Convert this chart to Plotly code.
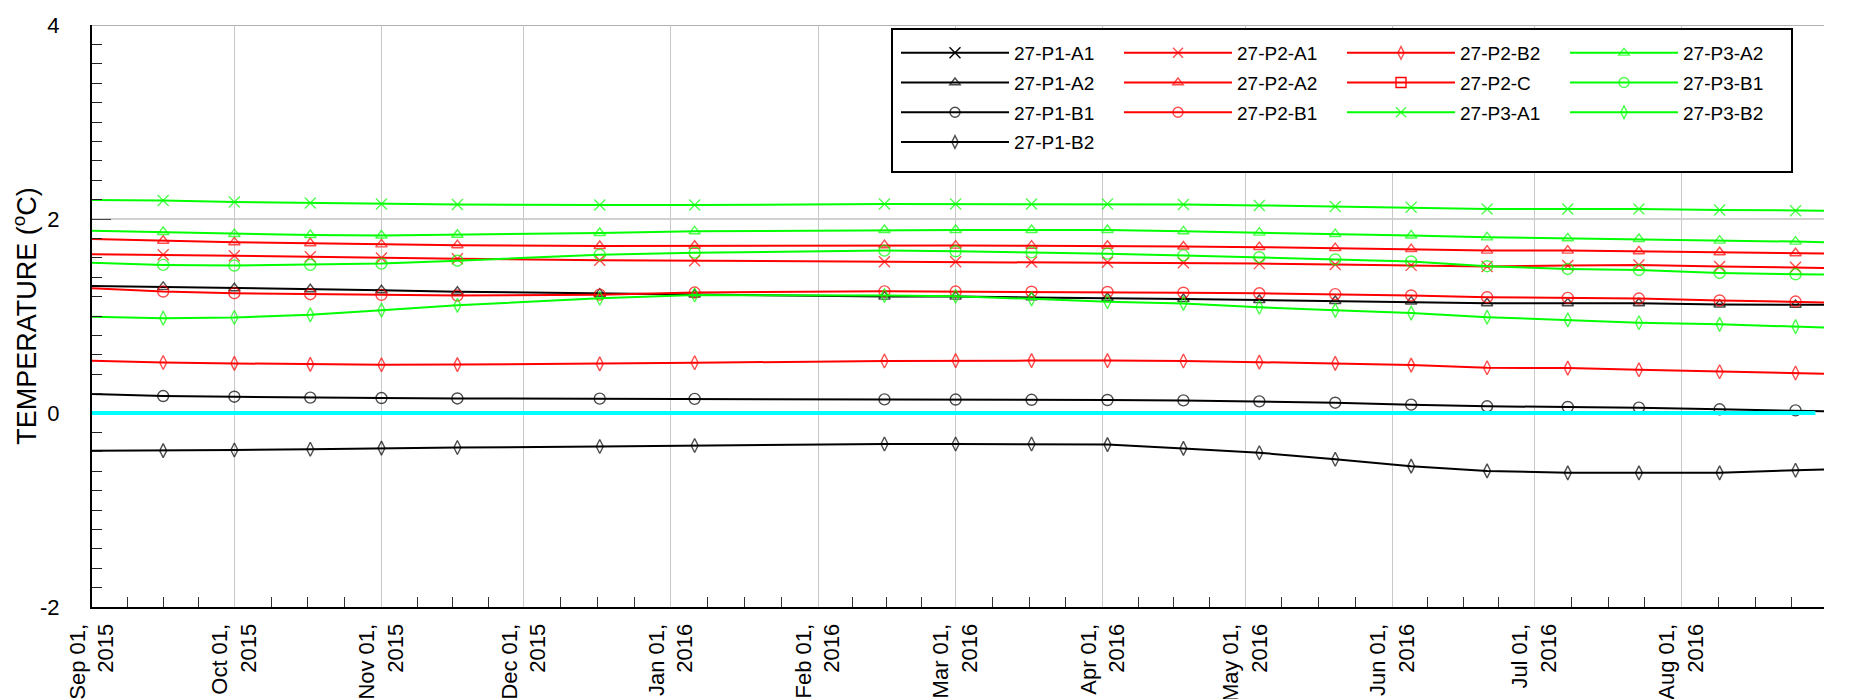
import datetime as dt
import plotly.graph_objects as go

# ---------------- data ----------------
dates = ["2015-09-01", "2015-09-16", "2015-10-01", "2015-10-17", "2015-11-01", "2015-11-17",
         "2015-12-17", "2016-01-06", "2016-02-15", "2016-03-01", "2016-03-17", "2016-04-02",
         "2016-04-18", "2016-05-04", "2016-05-20", "2016-06-05", "2016-06-21", "2016-07-08",
         "2016-07-23", "2016-08-09", "2016-08-25", "2016-08-31"]

p1_a1 = [None]   # no readings plotted for this sensor
p1_a2 = [1.310, 1.300, 1.286, 1.276, 1.266, 1.250, 1.230, 1.222, 1.200, 1.200, 1.192, 1.186,
         1.175, 1.165, 1.155, 1.149, 1.132, 1.132, 1.132, 1.118, 1.115, 1.115]
p1_b1 = [0.196, 0.175, 0.168, 0.158, 0.154, 0.150, 0.148, 0.146, 0.140, 0.139, 0.136, 0.134,
         0.130, 0.120, 0.106, 0.086, 0.069, 0.062, 0.055, 0.038, 0.027, 0.017]
p1_b2 = [-0.388, -0.388, -0.381, -0.374, -0.362, -0.356, -0.345, -0.335, -0.320, -0.320, -0.320, -0.326,
         -0.365, -0.410, -0.477, -0.548, -0.597, -0.617, -0.617, -0.617, -0.590, -0.583]
p2_a1 = [1.636, 1.632, 1.621, 1.612, 1.598, 1.590, 1.575, 1.570, 1.560, 1.560, 1.556, 1.553,
         1.548, 1.540, 1.530, 1.522, 1.510, 1.520, 1.525, 1.510, 1.503, 1.496]
p2_a2 = [1.795, 1.776, 1.760, 1.750, 1.738, 1.730, 1.722, 1.724, 1.730, 1.726, 1.725, 1.724,
         1.717, 1.710, 1.700, 1.690, 1.674, 1.674, 1.667, 1.657, 1.647, 1.645]
p2_b1 = [1.286, 1.252, 1.235, 1.225, 1.218, 1.211, 1.220, 1.242, 1.254, 1.252, 1.250, 1.248,
         1.240, 1.234, 1.226, 1.212, 1.194, 1.187, 1.180, 1.160, 1.149, 1.140]
p2_b2 = [0.539, 0.521, 0.511, 0.501, 0.497, 0.499, 0.506, 0.518, 0.536, 0.540, 0.540, 0.540,
         0.536, 0.524, 0.512, 0.494, 0.467, 0.463, 0.446, 0.425, 0.412, 0.405]
p2_c = [None]    # no readings plotted for this sensor
p3_a1 = [2.196, 2.190, 2.176, 2.165, 2.155, 2.150, 2.144, 2.144, 2.155, 2.155, 2.155, 2.155,
         2.150, 2.140, 2.130, 2.120, 2.103, 2.103, 2.103, 2.093, 2.086, 2.086]
p3_a2 = [1.880, 1.866, 1.845, 1.835, 1.830, 1.838, 1.856, 1.873, 1.887, 1.887, 1.887, 1.887,
         1.873, 1.860, 1.845, 1.830, 1.811, 1.801, 1.794, 1.777, 1.767, 1.760]
p3_b1 = [1.550, 1.527, 1.520, 1.527, 1.540, 1.570, 1.632, 1.653, 1.674, 1.667, 1.656, 1.643,
         1.625, 1.606, 1.583, 1.562, 1.513, 1.485, 1.475, 1.444, 1.430, 1.428]
p3_b2 = [0.991, 0.978, 0.985, 1.012, 1.060, 1.110, 1.183, 1.216, 1.212, 1.203, 1.177, 1.147,
         1.130, 1.090, 1.058, 1.030, 0.988, 0.960, 0.930, 0.914, 0.890, 0.882]

series_names = ["27-P1-A1", "27-P1-A2", "27-P1-B1", "27-P1-B2",
                "27-P2-A1", "27-P2-A2", "27-P2-B1",
                "27-P2-B2", "27-P2-C", "27-P3-A1",
                "27-P3-A2", "27-P3-B1", "27-P3-B2"]
series_values = [p1_a1, p1_a2, p1_b1, p1_b2,
                 p2_a1, p2_a2, p2_b1,
                 p2_b2, p2_c, p3_a1,
                 p3_a2, p3_b1, p3_b2]

tick_dates = ["2015-09-01", "2015-10-01", "2015-11-01", "2015-12-01", "2016-01-01", "2016-02-01",
              "2016-03-01", "2016-04-01", "2016-05-01", "2016-06-01", "2016-07-01", "2016-08-01"]
tick_labels = ["Sep 01,<br>2015", "Oct 01,<br>2015", "Nov 01,<br>2015", "Dec 01,<br>2015",
               "Jan 01,<br>2016", "Feb 01,<br>2016", "Mar 01,<br>2016", "Apr 01,<br>2016",
               "May 01,<br>2016", "Jun 01,<br>2016", "Jul 01,<br>2016", "Aug 01,<br>2016"]
x_range = ["2015-09-01", "2016-08-31"]
y_range = [-2, 4]
y_label_vals = [-2, 0, 2, 4]
y_label_text = ["-2", "0", "2", "4"]
y_unlabelled_vals = [-1, 1, 3]

# ---------------- styles ----------------
FONT = "Liberation Sans, Arial, sans-serif"
BLACK, RED, GREEN = "#000000", "#ff0000", "#00ff00"
colors = [BLACK] * 4 + [RED] * 5 + [GREEN] * 4
symbols = ["x-thin-open", "triangle-up-open", "circle-open", "diamond-tall-open",
           "x-thin-open", "triangle-up-open", "circle-open",
           "diamond-tall-open", "square-open", "x-thin-open",
           "triangle-up-open", "circle-open", "diamond-tall-open"]
msizes = {"x-thin-open": 11, "triangle-up-open": 10, "circle-open": 11,
          "diamond-tall-open": 10, "square-open": 10}
legend_ids = ["legend"] * 4 + ["legend2"] * 3 + ["legend3"] * 3 + ["legend4"] * 3

fig = go.Figure()
for name, vals, col, sym, lg in zip(series_names, series_values, colors, symbols, legend_ids):
    n = len(vals)
    xs = dates[:n]
    if n > 2:
        sizes = [0 if (i == 0 or i == n - 1) else msizes[sym] for i in range(n)]
    else:
        sizes = msizes[sym]
    fig.add_trace(go.Scatter(
        x=xs, y=vals, name=name, mode="lines+markers", legend=lg, legendgroup=name,
        line=dict(color=col, width=2),
        marker=dict(symbol=sym, size=sizes, color=col, line=dict(color=col, width=1.4)),
        xaxis="x", yaxis="y",
    ))

# minor x ticks at quarter months
month_starts = [dt.date(2015, 9, 1)]
for _ in range(12):
    d = month_starts[-1]
    month_starts.append(dt.date(d.year + (d.month // 12), d.month % 12 + 1, 1))
minor_x = []
for a, b in zip(month_starts[:-1], month_starts[1:]):
    span = (b - a).days
    for k in (1, 2, 3):
        minor_x.append((dt.datetime.combine(a, dt.time()) + dt.timedelta(days=span * k / 4)).isoformat())

W, H = 1875, 699
L, R, T, B = 84, 59, 17, 100
pw = W - L - R
ph = H - T - B


def px2x(p):
    return (p - L) / pw


def py2y(p):
    return (H - B - p) / ph


legend_common = dict(font=dict(family=FONT, size=19, color="black"),
                     bgcolor="rgba(0,0,0,0)", borderwidth=0, xanchor="left", yanchor="top",
                     traceorder="grouped", tracegroupgap=2, itemwidth=108, orientation="v")
leg_top = py2y(26)

minor_y = dict(dtick=0.2, ticks="inside", ticklen=10, tickcolor="#222222", showgrid=False)
tick_font = dict(family=FONT, size=22, color="black")

fig.update_layout(
    width=W, height=H,
    margin=dict(l=L, r=R, t=T, b=B, autoexpand=False),
    paper_bgcolor="white", plot_bgcolor="white",
    font=dict(family=FONT, size=20, color="black"),
    showlegend=True,
    legend=dict(legend_common, x=px2x(888), y=leg_top),
    legend2=dict(legend_common, x=px2x(1111), y=leg_top),
    legend3=dict(legend_common, x=px2x(1334), y=leg_top),
    legend4=dict(legend_common, x=px2x(1557), y=leg_top),
    xaxis=dict(
        type="date", range=x_range, tickmode="array", tickvals=tick_dates, ticktext=tick_labels,
        tickangle=-90, tickfont=tick_font,
        ticks="", showgrid=True, gridcolor="#c8c8c8", gridwidth=1,
        showline=True, linecolor="black", linewidth=2, zeroline=False,
        ticklabelstandoff=6,
        minor=dict(tickmode="array", tickvals=minor_x, ticks="inside", ticklen=10,
                   tickcolor="#333333", showgrid=False),
    ),
    yaxis=dict(
        range=y_range, tickmode="array", tickvals=y_label_vals, ticktext=y_label_text,
        ticks="inside", ticklen=19, tickcolor="#444444", tickwidth=1, tickfont=tick_font,
        showgrid=False, zeroline=False, showline=True, linecolor="black", linewidth=2,
        ticklabelstandoff=26, minor=minor_y,
        title=dict(text="TEMPERATURE (<sup>o</sup>C)", font=dict(family=FONT, size=27, color="black"),
                   standoff=8),
    ),
    yaxis2=dict(
        overlaying="y", side="right", range=y_range, tickmode="array", tickvals=y_label_vals,
        ticktext=y_label_text, ticks="inside", ticklen=19, tickcolor="#444444", tickfont=tick_font,
        showgrid=False, zeroline=False, showline=True, linecolor="#808080", linewidth=2,
        ticklabelstandoff=14, minor=minor_y,
    ),
    yaxis3=dict(
        overlaying="y", side="left", range=y_range, tickmode="array", tickvals=y_unlabelled_vals,
        ticks="inside", ticklen=19, tickcolor="#444444", showticklabels=False,
        showgrid=False, zeroline=False, showline=False,
    ),
    yaxis4=dict(
        overlaying="y", side="right", range=y_range, tickmode="array", tickvals=y_unlabelled_vals,
        ticks="inside", ticklen=19, tickcolor="#444444", showticklabels=False,
        showgrid=False, zeroline=False, showline=False,
    ),
    shapes=[
        dict(type="line", xref="paper", yref="y", x0=0, x1=1, y0=2, y1=2,
             line=dict(color="#c0c0c0", width=1.5), layer="below"),
        dict(type="line", xref="paper", yref="y", x0=0, x1=1, y0=4, y1=4,
             line=dict(color="#b0b0b0", width=2), layer="below"),
        dict(type="line", xref="paper", yref="y", x0=0, x1=0.995, y0=0, y1=0,
             line=dict(color="#00ffff", width=4), layer="above"),
        dict(type="rect", xref="paper", yref="paper", x0=px2x(884), x1=px2x(1784),
             y0=py2y(164), y1=py2y(21), line=dict(color="black", width=2),
             fillcolor="white", layer="above"),
    ],
)

fig.write_html("out.html")
